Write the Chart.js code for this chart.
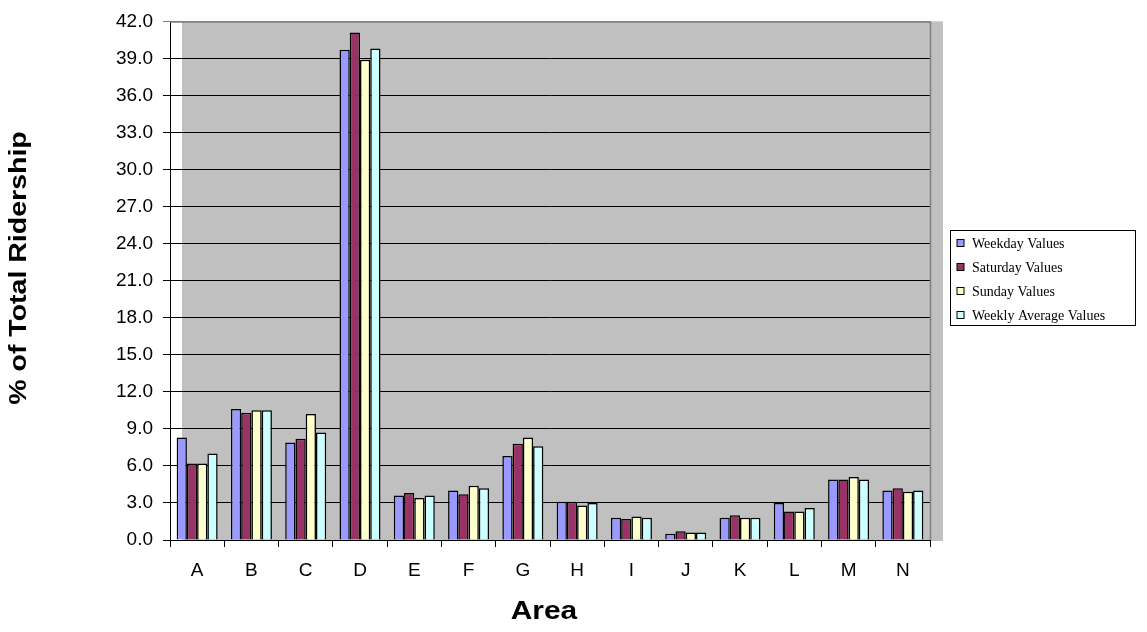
<!DOCTYPE html>
<html><head><meta charset="utf-8">
<script src="https://cdn.jsdelivr.net/npm/chart.js@4"></script>
<style>html,body{margin:0;padding:0;background:#fff}#wrap{width:1147px;height:632px}</style>
</head><body><div id="wrap"><canvas id="c" width="1147" height="632"></canvas></div>
<script>
// Share of total ridership by area, per day type (%)
const categories = ['A','B','C','D','E','F','G','H','I','J','K','L','M','N'];
const weekdayValues  = [8.3, 10.6, 7.9, 39.7, 3.6, 4.0, 6.8, 3.1, 1.8, 0.5, 1.8, 3.0, 4.9, 4.0];
const saturdayValues = [6.2, 10.3, 8.2, 41.1, 3.8, 3.7, 7.8, 3.1, 1.7, 0.7, 2.0, 2.3, 4.9, 4.2];
const sundayValues   = [6.2, 10.5, 10.2, 38.9, 3.4, 4.4, 8.3, 2.8, 1.9, 0.6, 1.8, 2.3, 5.1, 3.9];
const weeklyValues   = [7.0, 10.5, 8.7, 39.8, 3.6, 4.2, 7.6, 3.0, 1.8, 0.6, 1.8, 2.6, 4.9, 4.0];
const seriesNames = ['Weekday Values','Saturday Values','Sunday Values','Weekly Average Values'];
const seriesColors = ['#9999FF','#993366','#FFFFCC','#CCFFFF'];
const yMin = 0, yMax = 42, yStep = 3;
const yTitle = '% of Total Ridership';
const xTitle = 'Area';

const allSeries = [weekdayValues, saturdayValues, sundayValues, weeklyValues];

// Gray plot wall, shifted right like the old spreadsheet chart style
const wallPlugin = {
  id: 'wall',
  beforeDraw(chart) {
    const {ctx, chartArea: a} = chart;
    ctx.save();
    ctx.fillStyle = '#fff';
    ctx.fillRect(0, 0, chart.width, chart.height);
    ctx.fillStyle = '#C0C0C0';
    ctx.fillRect(a.left + 12, a.top, a.right - a.left + 1, a.bottom - a.top + 1);
    ctx.restore();
  },
  beforeDatasetsDraw(chart) {
    const {ctx, chartArea: a} = chart;
    ctx.save();
    ctx.strokeStyle = '#808080';
    ctx.lineWidth = 1.5;
    ctx.beginPath();
    ctx.moveTo(a.left, a.top + 0.5);
    ctx.lineTo(a.right + 0.5, a.top + 0.5);
    ctx.lineTo(a.right + 0.5, a.bottom);
    ctx.stroke();
    ctx.restore();
  }
};

// Boxed legend on the right
const boxLegend = {
  id: 'boxLegend',
  afterDraw(chart) {
    const ctx = chart.ctx;
    ctx.save();
    ctx.strokeStyle = '#000';
    ctx.lineWidth = 1;
    ctx.strokeRect(950.5, 230.5, 185, 95);
    ctx.font = '14px "Liberation Serif", "Times New Roman", serif';
    ctx.textBaseline = 'middle';
    ctx.fillStyle = '#000';
    chart.data.datasets.forEach((ds, i) => {
      const y = 243 + i * 24;
      ctx.fillStyle = ds.backgroundColor;
      ctx.fillRect(957, y - 3.5, 7, 7);
      ctx.strokeStyle = '#000';
      ctx.strokeRect(957, y - 3.5, 7, 7);
      ctx.fillStyle = '#000';
      ctx.fillText(ds.label, 972, y + 1);
    });
    ctx.restore();
  }
};

// Axis titles (slightly stretched along the text direction)
const axisTitles = {
  id: 'axisTitles',
  afterDraw(chart) {
    const ctx = chart.ctx;
    ctx.save();
    ctx.fillStyle = '#000';
    ctx.textAlign = 'center';
    ctx.textBaseline = 'middle';
    ctx.font = 'bold 23px "Liberation Sans", Arial, sans-serif';
    ctx.translate(20, 268);
    ctx.rotate(-Math.PI / 2);
    ctx.scale(1.24, 1);
    ctx.fillText(yTitle, 0, 0);
    ctx.restore();
    ctx.save();
    ctx.fillStyle = '#000';
    ctx.textAlign = 'center';
    ctx.textBaseline = 'middle';
    ctx.font = 'bold 26px "Liberation Sans", Arial, sans-serif';
    ctx.translate(544, 612);
    ctx.scale(1.15, 1);
    ctx.fillText(xTitle, 0, 0);
    ctx.restore();
  }
};

const tickFont = {family: '"Liberation Sans", Arial, sans-serif', size: 19};

new Chart(document.getElementById('c'), {
  type: 'bar',
  data: {
    labels: categories,
    datasets: allSeries.map((vals, i) => ({
      label: seriesNames[i],
      data: vals,
      backgroundColor: seriesColors[i],
      borderColor: '#000',
      borderWidth: 1.5,
      categoryPercentage: 0.755,
      barPercentage: 1.0
    }))
  },
  options: {
    responsive: false,
    animation: false,
    devicePixelRatio: 1,
    layout: {padding: {left: 0, right: 217, top: 19, bottom: 0}},
    plugins: {legend: {display: false}, tooltip: {enabled: false}},
    scales: {
      x: {
        grid: {offset: true, drawOnChartArea: false, drawTicks: true, tickLength: 7, color: '#000'},
        border: {color: '#000', width: 1},
        ticks: {font: tickFont, color: '#000', padding: 12},
        afterFit(s) { s.height = 92; }
      },
      y: {
        min: yMin, max: yMax,
        ticks: {stepSize: yStep, font: tickFont, color: '#000', padding: 10,
                callback: v => Number(v).toFixed(1)},
        grid: {tickLength: 7, color: c => (c.tick && c.tick.value === yMax) ? '#808080' : '#000'},
        border: {color: '#000', width: 1},
        afterFit(s) { s.width = 170; }
      }
    }
  },
  plugins: [wallPlugin, boxLegend, axisTitles]
});
</script>
</body></html>
